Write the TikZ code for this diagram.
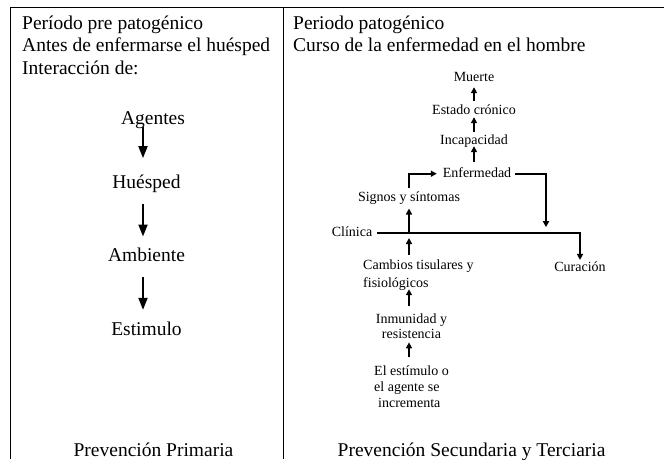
\documentclass[tikz,border=0pt]{standalone}
\usepackage{fontspec}
\setmainfont{Liberation Serif}
\usetikzlibrary{arrows.meta}
\begin{document}
\begin{tikzpicture}[x=1pt,y=-1pt,
 big/.style={font=\fontsize{19.5}{22}\selectfont, inner sep=0pt},
 bigc/.style={big, text height=13.4pt, text depth=4.3pt, anchor=base},
 sm/.style={font=\fontsize{14}{16}\selectfont, inner sep=0pt},
 smc/.style={sm, text height=9.6pt, text depth=3pt, anchor=base},
 frame/.style={line width=0.9pt},
 arrB/.style={line width=2pt, -{Triangle[length=12pt,width=9pt]}},
 arrS/.style={line width=1.6pt, -{Triangle[length=6pt,width=6pt]}}]
\useasboundingbox (0,0) rectangle (669,459);
% frame
\draw[frame] (10,459) -- (10,7) -- (664,7);
\draw[frame] (283,7) -- (283,459);
% headers
\node[big, anchor=base west] (h1) at (22,29) {Período pre patogénico};
\node[big, anchor=base west] (h2) at (22,51.5) {Antes de enfermarse el huésped};
\node[big, anchor=base west] (h3) at (22,74) {Interacción de:};
\node[big, anchor=base west] (r1) at (293,29) {Periodo patogénico};
\node[big, anchor=base west] (r2) at (293,51.5) {Curso de la enfermedad en el hombre};
% left chain
\node[bigc] (ag) at (153,124) {Agentes};
\node[bigc] (hu) at (146.5,188) {Huésped};
\node[bigc] (am) at (146.5,261.7) {Ambiente};
\node[bigc] (es) at (146.5,335) {Estimulo};
\coordinate (ax) at (143,0);
\draw[arrB, shorten <=-1.6pt, shorten >=16.3pt] (ax |- ag.south) -- (ax |- hu.north);
\draw[arrB, shorten <=11pt, shorten >=11.6pt] (ax |- hu.south) -- (ax |- am.north);
\draw[arrB, shorten <=10.7pt, shorten >=11.6pt] (ax |- am.south) -- (ax |- es.north);
% bottom labels
\node[big, anchor=base] (pp) at (153.5,456) {Prevención Primaria};
\node[big, anchor=base] (ps) at (471.6,456) {Prevención Secundaria y Terciaria};
% right chain
\node[smc] (mu) at (474,81.5) {Muerte};
\node[smc] (est) at (474,114) {Estado crónico};
\node[smc] (inc) at (474,144) {Incapacidad};
\node[smc] (enf) at (477,177) {Enfermedad};
\node[smc] (sig) at (409,201.7) {Signos y síntomas};
\node[smc] (cli) at (352,236) {Clínica};
\node[smc] (cur) at (580,271.7) {Curación};
\node[sm, align=left, anchor=north west] (cam) at (363,259.4) {Cambios tisulares y\\[1.7pt]fisiológicos};
\node[sm, align=center, anchor=north] (inm) at (411.5,313.7) {Inmunidad y\\[-1pt]resistencia};
\node[sm, align=left, anchor=north west] (ein) at (374,366) {El estímulo o\\el agente se\\\hspace*{4pt}incrementa};
\coordinate (k1) at (cli.east -| sig.south);
\coordinate (j1) at (546,232.7);
\draw[arrS, shorten <=3.4pt, shorten >=2.5pt] (est.north) -- (mu.south);
\draw[arrS, shorten <=2.4pt] (inc.north) -- (est.south);
\draw[arrS, shorten <=5.7pt, shorten >=-1pt] (inc.south |- enf.north) -- (inc.south);
\draw[arrS, shorten <=3.5pt, shorten >=5.8pt] (sig.north) |- (enf.west);
\draw[arrS, shorten <=4pt, shorten >=5.5pt] (enf.east) -| (j1);
\draw[arrS, shorten <=5pt, shorten >=2pt] (cli.east) -| (cur.north);
\draw[arrS, shorten >=3.6pt] (k1) -- (sig.south);
\draw[arrS, shorten <=4.4pt, shorten >=5.3pt] (cam.north -| k1) -- (k1);
\draw[arrS, shorten <=7.7pt, shorten >=-1pt] (inm.north -| k1) -- (cam.south -| k1);
\draw[arrS, shorten <=8.7pt, shorten >=3.4pt] (ein.north -| k1) -- (inm.south -| k1);
\end{tikzpicture}
\end{document}
